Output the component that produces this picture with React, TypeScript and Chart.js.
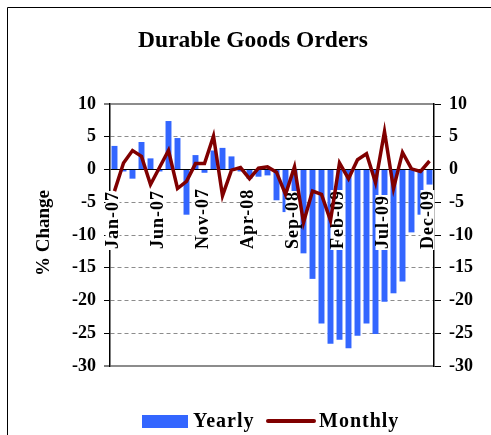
import React, { useEffect, useRef } from 'react';
import { Chart, registerables } from 'chart.js';

Chart.register(...registerables);

const months = [
  'Jan-07', 'Feb-07', 'Mar-07', 'Apr-07', 'May-07', 'Jun-07', 'Jul-07', 'Aug-07', 'Sep-07', 'Oct-07', 'Nov-07', 'Dec-07',
  'Jan-08', 'Feb-08', 'Mar-08', 'Apr-08', 'May-08', 'Jun-08', 'Jul-08', 'Aug-08', 'Sep-08', 'Oct-08', 'Nov-08', 'Dec-08',
  'Jan-09', 'Feb-09', 'Mar-09', 'Apr-09', 'May-09', 'Jun-09', 'Jul-09', 'Aug-09', 'Sep-09', 'Oct-09', 'Nov-09', 'Dec-09',
];
const shownLabels = ['Jan-07', 'Jun-07', 'Nov-07', 'Apr-08', 'Sep-08', 'Feb-09', 'Jul-09', 'Dec-09'];

const yearly = [
  3.6, -0.3, -1.4, 4.2, 1.7, -0.3, 7.4, 4.8, -6.9, 2.2, -0.5, 2.9,
  3.3, 2.0, -0.3, -1.4, -1.1, -0.9, -4.7, -6.5, -8.0, -12.8, -16.7, -23.5,
  -26.6, -26.0, -27.3, -25.4, -23.5, -25.1, -20.2, -18.9, -17.1, -9.6, -6.9, -2.3,
];
const monthly = [
  -3.3, 1.0, 2.9, 2.0, -2.3, 0.3, 2.9, -2.9, -1.8, 0.9, 0.9, 5.1,
  -4.0, -0.1, 0.3, -1.4, 0.2, 0.4, -0.4, -3.8, 0.4, -8.1, -3.3, -3.8,
  -7.8, 1.0, -1.4, 1.5, 2.4, -2.0, 5.8, -2.9, 2.6, 0.1, -0.3, 1.3,
];

const Y_MIN = -30;
const Y_MAX = 10;
const Y_STEP = 5;

const TITLE = 'Durable Goods Orders';
const Y_TITLE = '% Change';
const SERIES_NAMES = ['Yearly', 'Monthly'];
const BLUE = '#3366FF';
const MAROON = '#800000';
const FONT = '"Liberation Serif", "Times New Roman", serif';

const decor = {
  id: 'decor',
  beforeDatasetDraw(chart: any, args: any) {
    if (args.meta.type !== 'line') return;
    const ctx = chart.ctx;
    const xs = chart.scales.x;
    ctx.save();
    ctx.font = `bold 18px ${FONT}`;
    (ctx as any).letterSpacing = '1px';
    months.forEach((m, i) => {
      if (!shownLabels.includes(m)) return;
      const x = xs.getPixelForValue(i) - 2;
      ctx.save();
      ctx.translate(x, 249);
      ctx.rotate(-Math.PI / 2);
      const w = ctx.measureText(m).width;
      ctx.fillStyle = '#ffffff';
      ctx.fillRect(-1, -7, w + 1, 14);
      ctx.fillStyle = '#000000';
      ctx.textAlign = 'left';
      ctx.textBaseline = 'middle';
      ctx.fillText(m, 0, 1);
      ctx.restore();
    });
    ctx.restore();
  },
  afterDraw(chart: any) {
    const ctx = chart.ctx;
    ctx.save();
    // outer border
    ctx.strokeStyle = '#000';
    ctx.lineWidth = 1;
    ctx.beginPath();
    ctx.moveTo(7.5, 435);
    ctx.lineTo(7.5, 7.5);
    ctx.lineTo(491, 7.5);
    ctx.stroke();

    // title
    ctx.fillStyle = '#000';
    ctx.font = `bold 23.5px ${FONT}`;
    ctx.textAlign = 'center';
    ctx.textBaseline = 'middle';
    ctx.fillText(TITLE, 253, 41);

    // y title
    ctx.save();
    ctx.translate(44, 233);
    ctx.rotate(-Math.PI / 2);
    ctx.font = `bold 19px ${FONT}`;
    ctx.fillText(Y_TITLE, 0, 0);
    ctx.restore();

    // legend
    ctx.fillStyle = BLUE;
    ctx.fillRect(142, 415, 46, 13);
    ctx.fillStyle = '#000';
    ctx.font = `bold 20px ${FONT}`;
    (ctx as any).letterSpacing = '1px';
    ctx.textAlign = 'left';
    ctx.textBaseline = 'alphabetic';
    ctx.fillText(SERIES_NAMES[0], 193, 427);
    ctx.strokeStyle = MAROON;
    ctx.lineWidth = 4;
    ctx.lineCap = 'round';
    ctx.beginPath();
    ctx.moveTo(268, 421);
    ctx.lineTo(314, 421);
    ctx.stroke();
    ctx.fillText(SERIES_NAMES[1], 319, 427);
    ctx.restore();
  },
};

export default function App() {
  const ref = useRef<HTMLCanvasElement | null>(null);

  useEffect(() => {
    if (!ref.current) return;
    const isEdge = (v: number) => v === Y_MAX || v === Y_MIN;
    const chart = new Chart(ref.current, {
      type: 'bar',
      data: {
        labels: months,
        datasets: [
          {
            type: 'line',
            label: SERIES_NAMES[1],
            data: monthly,
            borderColor: MAROON,
            backgroundColor: MAROON,
            borderWidth: 3.5,
            pointRadius: 0,
            tension: 0,
            order: 0,
            yAxisID: 'y',
          } as any,
          {
            type: 'bar',
            label: SERIES_NAMES[0],
            data: yearly,
            backgroundColor: BLUE,
            borderWidth: 0,
            barPercentage: 0.66,
            categoryPercentage: 1,
            order: 1,
            yAxisID: 'y',
          },
        ],
      },
      options: {
        responsive: false,
        animation: false,
        devicePixelRatio: 1,
        layout: { padding: { top: 104, bottom: 69, left: 0, right: 0 } },
        plugins: {
          legend: { display: false },
          title: { display: false },
          tooltip: { enabled: false },
        },
        scales: {
          x: {
            display: false,
          },
          y: {
            position: 'left',
            min: Y_MIN,
            max: Y_MAX,
            afterFit: (s: any) => { s.width = 110; },
            ticks: {
              stepSize: Y_STEP,
              color: '#000',
              padding: 8,
              font: { family: FONT, size: 18, weight: 'bold' },
            },
            grid: {
              color: (c: any) => (c.tick && c.tick.value === 0 ? '#000000' : '#8c8c8c'),
              lineWidth: (c: any) => (c.tick && isEdge(c.tick.value) ? 2 : 1),
              tickColor: '#000000',
              tickWidth: 1,
              tickLength: 6,
            },
            border: {
              color: '#000000',
              width: 1.5,
              dash: (c: any) => (c.type === 'tick' && c.tick && !isEdge(c.tick.value) && c.tick.value !== 0 ? [4, 3] : []),
            },
          } as any,
          y2: {
            position: 'right',
            min: Y_MIN,
            max: Y_MAX,
            afterFit: (s: any) => { s.width = 57; },
            ticks: {
              stepSize: Y_STEP,
              color: '#000',
              padding: 8,
              font: { family: FONT, size: 18, weight: 'bold' },
            },
            grid: {
              drawOnChartArea: false,
              tickColor: '#000000',
              tickWidth: 1,
              tickLength: 7,
            },
            border: { color: '#000000', width: 1.5 },
          } as any,
        },
      },
      plugins: [decor],
    });
    return () => chart.destroy();
  }, []);

  return (
    <div style={{ position: 'fixed', left: 0, top: 0, width: 491, height: 435, background: '#fff' }}>
      <canvas ref={ref} width={491} height={435} style={{ width: 491, height: 435, display: 'block' }} />
    </div>
  );
}
